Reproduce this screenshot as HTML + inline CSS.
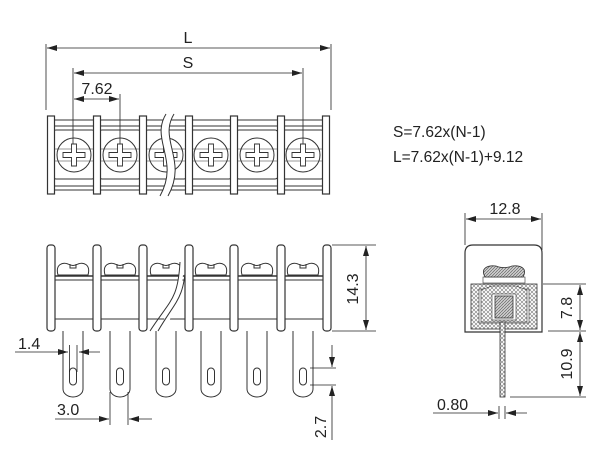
<!DOCTYPE html>
<html><head><meta charset="utf-8"><style>
html,body{margin:0;padding:0;background:#fff;width:600px;height:450px;overflow:hidden}
text{font-family:"Liberation Sans",Arial,sans-serif;fill:#222}
</style></head><body>
<svg width="600" height="450" viewBox="0 0 600 450" xmlns="http://www.w3.org/2000/svg">
<defs>
<marker id="a" viewBox="0 0 10 6" refX="10" refY="3" markerWidth="10" markerHeight="6" orient="auto-start-reverse" markerUnits="userSpaceOnUse"><path d="M0,0 L10,3 L0,6z" fill="#222"/></marker>
<pattern id="h" width="4" height="4" patternUnits="userSpaceOnUse"><rect width="4" height="4" fill="#fff"/><path d="M0,4 L4,0 M0,0 L4,4" stroke="#777" stroke-width="0.6"/></pattern>
<pattern id="h2" width="3" height="3" patternUnits="userSpaceOnUse"><rect width="3" height="3" fill="#ccc"/><path d="M0,3 L3,0" stroke="#555" stroke-width="0.6"/></pattern>
<g id="tc" fill="none" stroke="#333" stroke-width="1">
<line x1="-23" y1="120" x2="23" y2="120"/><line x1="-23" y1="126" x2="23" y2="126"/>
<rect x="-21" y="130" width="42" height="49" rx="3"/>
<line x1="-23" y1="186" x2="23" y2="186"/><line x1="-23" y1="190" x2="23" y2="190"/>
<circle cx="0" cy="155" r="17"/>
<line x1="-21" y1="149" x2="21" y2="149" stroke-width="0.6"/><line x1="-21" y1="161" x2="21" y2="161" stroke-width="0.6"/>
<path d="M-2.5,144 h5 v8.5 h8.5 v5 h-8.5 v8.5 h-5 v-8.5 h-8.5 v-5 h8.5z" fill="#fff" stroke-width="0.9"/>
</g>
<g id="tb"><rect x="-3.5" y="116" width="7" height="78" fill="#fff" stroke="#333" stroke-width="1.2"/></g>
<g id="bc" fill="#fff" stroke="#333" stroke-width="1">
<path d="M-10,331 V389 A10,8 0 0 0 10,389 V331"/>
<rect x="-3.5" y="368" width="7" height="17" rx="3.5"/>
<path d="M-15,275 C-18,264 -10,262 -5,264 C-2,266 2,266 5,264 C10,262 18,264 15,275z" fill="#fff"/>
<path d="M-3,264 v4 h6 v-4" fill="none"/>
<line x1="-20" y1="276" x2="20" y2="276" stroke-width="1.4"/><line x1="-20" y1="280" x2="20" y2="280"/>
<line x1="-20" y1="319" x2="20" y2="319"/>
</g>
<g id="bb"><rect x="-4" y="245" width="8" height="86" rx="3" fill="#fff" stroke="#333" stroke-width="1.2"/></g>
</defs>

<!-- TOP VIEW -->
<g stroke="#222" stroke-width="0.8" fill="none">
<line x1="46" y1="44" x2="46" y2="110"/><line x1="331" y1="44" x2="331" y2="110"/>
<line x1="47" y1="48" x2="330" y2="48" marker-start="url(#a)" marker-end="url(#a)"/>
<line x1="73" y1="68" x2="73" y2="155"/><line x1="303" y1="68" x2="303" y2="155"/>
<line x1="74" y1="73" x2="302" y2="73" marker-start="url(#a)" marker-end="url(#a)"/>
<line x1="120" y1="94" x2="120" y2="155"/>
<line x1="74" y1="99" x2="119" y2="99" marker-start="url(#a)" marker-end="url(#a)"/>
</g>
<text x="188" y="43" font-size="16" text-anchor="middle">L</text>
<text x="188" y="68" font-size="16" text-anchor="middle">S</text>
<text x="97" y="94" font-size="16" text-anchor="middle">7.62</text>
<use href="#tc" x="74"/><use href="#tc" x="120"/><use href="#tc" x="166"/><use href="#tc" x="211"/><use href="#tc" x="257"/><use href="#tc" x="303"/>
<path d="M166,114 C150,140 180,160 160,196 L168,196 C188,160 158,140 174,114z" fill="#fff" stroke="none"/>
<path d="M166,114 C150,140 180,160 160,196 M174,114 C158,140 188,160 168,196" fill="none" stroke="#333" stroke-width="1"/>
<use href="#tb" x="51"/><use href="#tb" x="97"/><use href="#tb" x="143"/><use href="#tb" x="189"/><use href="#tb" x="234"/><use href="#tb" x="281"/><use href="#tb" x="326"/>

<!-- FORMULAS -->
<text x="393" y="137" font-size="15.5">S=7.62x(N-1)</text>
<text x="393" y="162" font-size="15.5">L=7.62x(N-1)+9.12</text>

<!-- FRONT VIEW -->
<use href="#bc" x="73"/><use href="#bc" x="120"/><use href="#bc" x="166"/><use href="#bc" x="211"/><use href="#bc" x="257"/><use href="#bc" x="303"/>
<path d="M160,331 C170,300 178,300 180,262 L184,262 C182,300 176,300 166,331z" fill="#fff" stroke="none"/>
<path d="M150,331 C170,300 178,300 180,262 M158,331 C176,300 184,300 186,262" fill="none" stroke="#333" stroke-width="1"/>
<use href="#bb" x="51"/><use href="#bb" x="97"/><use href="#bb" x="143"/><use href="#bb" x="189"/><use href="#bb" x="234"/><use href="#bb" x="281"/><use href="#bb" x="327"/>
<g stroke="#222" stroke-width="0.8" fill="none">
<line x1="332" y1="245" x2="376" y2="245"/><line x1="332" y1="331" x2="376" y2="331"/>
<line x1="366" y1="246" x2="366" y2="330" marker-start="url(#a)" marker-end="url(#a)"/>
<line x1="15" y1="352" x2="68" y2="352" marker-end="url(#a)"/>
<line x1="100" y1="352" x2="79" y2="352" marker-end="url(#a)"/>
<line x1="69.5" y1="345" x2="69.5" y2="372"/><line x1="77" y1="345" x2="77" y2="372"/>
<line x1="110" y1="392" x2="110" y2="425"/><line x1="128" y1="392" x2="128" y2="425"/>
<line x1="55" y1="419" x2="109" y2="419" marker-end="url(#a)"/><line x1="152" y1="419" x2="129" y2="419" marker-end="url(#a)"/>
<line x1="310" y1="368" x2="336" y2="368"/><line x1="310" y1="385" x2="336" y2="385"/>
<line x1="332" y1="345" x2="332" y2="367" marker-end="url(#a)"/><line x1="332" y1="440" x2="332" y2="386" marker-end="url(#a)"/>
</g>
<text x="18" y="349" font-size="16">1.4</text>
<text x="57" y="415" font-size="16">3.0</text>
<text font-size="16" transform="translate(358,289) rotate(-90)" text-anchor="middle">14.3</text>
<text font-size="16" transform="translate(326,427) rotate(-90)" text-anchor="middle">2.7</text>

<!-- SIDE VIEW -->
<g stroke="#222" stroke-width="0.8" fill="none">
<line x1="465" y1="213" x2="465" y2="245"/><line x1="542" y1="213" x2="542" y2="250"/>
<line x1="466" y1="219" x2="541" y2="219" marker-start="url(#a)" marker-end="url(#a)"/>
<line x1="543" y1="284" x2="586" y2="284"/><line x1="548" y1="331" x2="586" y2="331"/><line x1="510" y1="397" x2="586" y2="397"/>
<line x1="580" y1="285" x2="580" y2="330" marker-start="url(#a)" marker-end="url(#a)"/>
<line x1="580" y1="332" x2="580" y2="396" marker-start="url(#a)" marker-end="url(#a)"/>
<line x1="433" y1="413" x2="498" y2="413" marker-end="url(#a)"/><line x1="527" y1="413" x2="506" y2="413" marker-end="url(#a)"/>
<line x1="499" y1="406" x2="499" y2="419"/><line x1="505" y1="406" x2="505" y2="419"/>
</g>
<text x="505" y="214" font-size="16" text-anchor="middle">12.8</text>
<text font-size="16" transform="translate(572,308) rotate(-90)" text-anchor="middle">7.8</text>
<text font-size="16" transform="translate(572,364) rotate(-90)" text-anchor="middle">10.9</text>
<text x="437" y="410" font-size="16">0.80</text>
<path d="M465,332 V253 Q465,245 473,245 H534 Q542,245 542,253 V332z" fill="#fff" stroke="#333" stroke-width="1.2"/>
<rect x="471" y="284" width="66" height="45" fill="url(#h)" stroke="#333" stroke-width="0.8"/>
<rect x="479" y="289" width="50" height="34" fill="#fff" stroke="#333" stroke-width="0.6"/>
<path d="M481,290 L492,286 H516 L527,290 V322 H481z" fill="url(#h)" stroke="#333" stroke-width="0.6"/>
<rect x="492" y="294" width="24" height="26" fill="#fff" stroke="#333" stroke-width="0.6"/>
<rect x="495" y="296" width="18" height="22" fill="url(#h2)" stroke="#333" stroke-width="0.8"/>
<rect x="483" y="277" width="42" height="6" fill="#fff" stroke="#333" stroke-width="0.6"/>
<path d="M485,277 C480,268 488,265 496,266 C500,268 508,268 512,266 C520,265 528,268 523,277z" fill="url(#h2)" stroke="#333" stroke-width="0.8"/>
<rect x="500" y="322" width="5" height="75" fill="url(#h)" stroke="#333" stroke-width="0.8"/>
</svg>
</body></html>
